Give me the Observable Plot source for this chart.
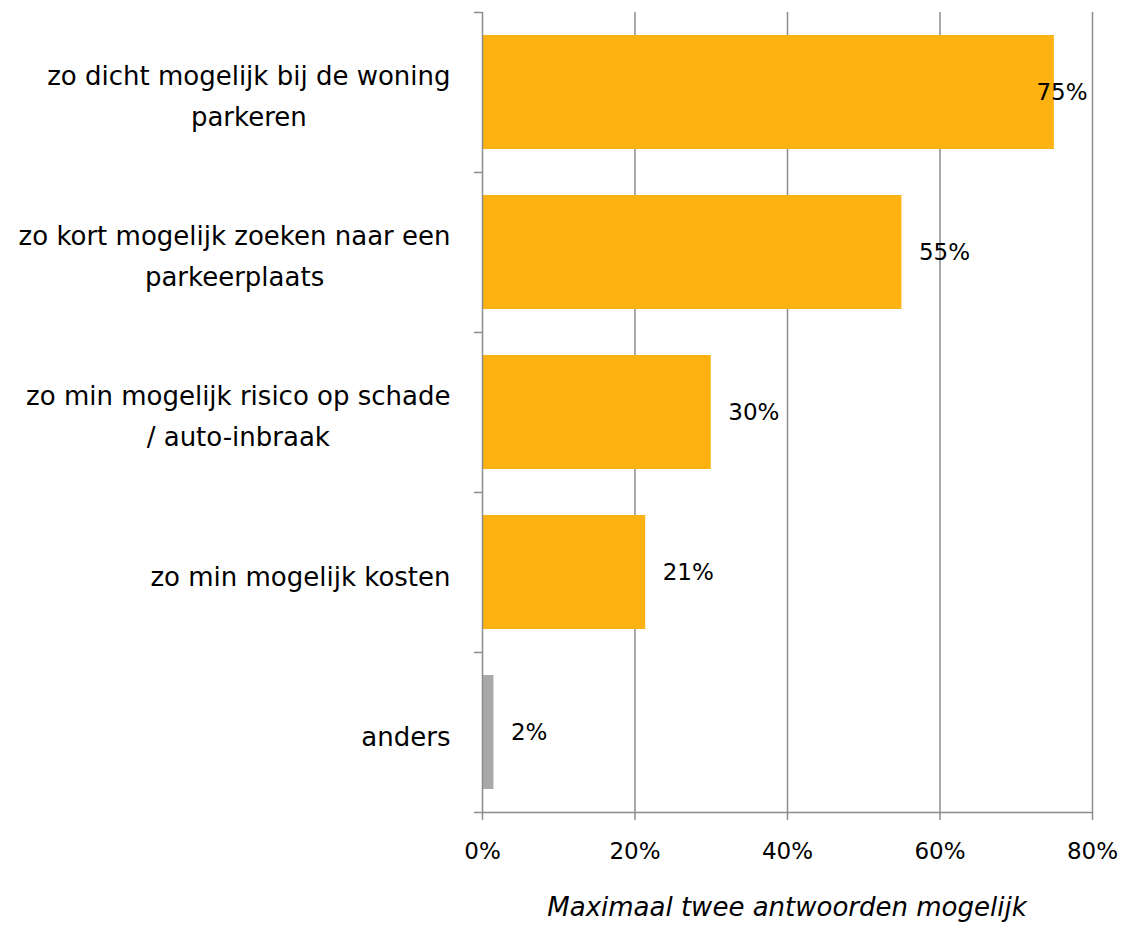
<!DOCTYPE html>
<html><head><meta charset="utf-8">
<script src="https://cdn.jsdelivr.net/npm/d3@7"></script>
<script src="https://cdn.jsdelivr.net/npm/@observablehq/plot@0.6"></script>
<style>
body{margin:0;background:#fff;font-family:"DejaVu Sans",sans-serif;position:relative;}
#caption{position:absolute;left:482px;top:890px;width:610px;text-align:center;font-style:italic;font-size:26px;line-height:34px;color:#000;white-space:nowrap;}
</style></head><body><div id="chart"></div><div id="caption">Maximaal twee antwoorden mogelijk</div>
<script>
const categories = [
  "zo dicht mogelijk bij de woning parkeren",
  "zo kort mogelijk zoeken naar een parkeerplaats",
  "zo min mogelijk risico op schade / auto-inbraak",
  "zo min mogelijk kosten",
  "anders"
];
const tickLabels = [
  "zo dicht mogelijk bij de woning\nparkeren",
  "zo kort mogelijk zoeken naar een\nparkeerplaats",
  "zo min mogelijk risico op schade\n/ auto-inbraak",
  "zo min mogelijk kosten",
  "anders"
];
const values = [75, 55, 30, 21.4, 1.5];
const colors = ["#FDB212", "#FDB212", "#FDB212", "#FDB212", "#A9A9A9"];
const xTicks = [0, 20, 40, 60, 80];

const data = categories.map((c, i) => ({category: c, value: values[i], color: colors[i]}));
const gridColor = "#8c8c8c";

const chart = Plot.plot({
  width: 1124, height: 927,
  marginTop: 12, marginBottom: 115, marginLeft: 482, marginRight: 32,
  style: {fontFamily: "DejaVu Sans", fontSize: "23px", color: "#000", background: "#fff"},
  x: {domain: [0, 80], label: null},
  y: {domain: categories, paddingInner: 0.29, paddingOuter: 0.145, label: null},
  marks: [
    Plot.gridX(xTicks.slice(1), {stroke: gridColor, strokeOpacity: 1, strokeWidth: 1.5}),
    Plot.barX(data, {y: "category", x: "value", fill: "color"}),
    Plot.ruleX([0], {stroke: gridColor, strokeWidth: 1.5}),
    Plot.ruleY([categories[categories.length - 1]], {dy: 80, stroke: gridColor, strokeWidth: 1.5}),
    Plot.axisY({ticks: categories, tickSize: 8, dy: -80, tickFormat: () => "", stroke: gridColor, strokeWidth: 1.5, label: null}),
    Plot.axisY({ticks: [categories[categories.length - 1]], tickSize: 8, dy: 80, tickFormat: () => "", stroke: gridColor, strokeWidth: 1.5, label: null}),
    Plot.axisY({ticks: categories, tickSize: 0, tickPadding: 32, tickFormat: d => tickLabels[categories.indexOf(d)], lineHeight: 1.58, fontSize: 26, fill: "#000", label: null}),
    Plot.axisX({ticks: xTicks, tickSize: 8, tickPadding: 22, tickFormat: d => d + "%", stroke: gridColor, strokeWidth: 1.5, fill: "#000", fontSize: 23, label: null}),
    Plot.text(data.filter(d => d.value < 70), {x: "value", y: "category", text: d => Math.round(d.value) + "%", textAnchor: "start", dx: 17, fontSize: 23, fill: "#000"}),
    Plot.text(data.filter(d => d.value >= 70), {x: "value", y: "category", text: d => Math.round(d.value) + "%", textAnchor: "start", dx: -18, fontSize: 23, fill: "#000"})
  ]
});
document.getElementById("chart").append(chart);
chart.querySelectorAll('g[aria-label="y-axis tick label"] text').forEach(t => {
  const tspans = t.querySelectorAll("tspan");
  if (tspans.length < 2) return;
  let w = 0;
  tspans.forEach(s => { w = Math.max(w, s.getComputedTextLength()); });
  t.setAttribute("text-anchor", "middle");
  tspans.forEach(s => s.setAttribute("x", -w / 2));
});
</script></body></html>
